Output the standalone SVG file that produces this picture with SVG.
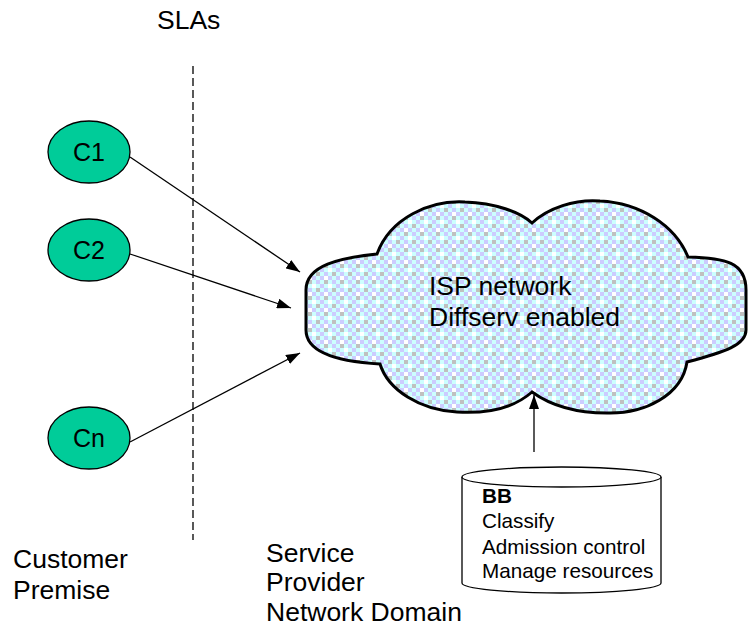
<svg xmlns="http://www.w3.org/2000/svg" width="748" height="628" viewBox="0 0 748 628">
<style>
  .lbl { font-family: "Liberation Sans", Arial, sans-serif; font-size: 26.5px; fill: #000; }
  .cl { font-family: "Liberation Sans", Arial, sans-serif; font-size: 25px; fill: #000; text-anchor: middle; }
  .bb { font-family: "Liberation Sans", Arial, sans-serif; font-size: 20.7px; fill: #000; }
  .node { fill: #00CC99; stroke: #000; stroke-width: 1.3; }
  .conn { stroke: #000; stroke-width: 1.3; fill: none; marker-end: url(#arr); }
</style>
<defs>
  <marker id="arr" markerUnits="userSpaceOnUse" viewBox="0 0 14 10" refX="14" refY="5" markerWidth="14" markerHeight="10" orient="auto">
    <path d="M0,0 L14,5 L0,10 Z" fill="#000"/>
  </marker>
  <pattern id="chk" patternUnits="userSpaceOnUse" width="16" height="16">
    <rect width="16" height="16" fill="#ccffff"/>
    <rect x="4" y="0" width="4" height="4" fill="#ccccff"/>
    <rect x="12" y="0" width="4" height="4" fill="#c0c0c0"/>
    <rect x="0" y="4" width="4" height="4" fill="#ccccff"/>
    <rect x="4" y="4" width="4" height="4" fill="#ffffff"/>
    <rect x="8" y="4" width="4" height="4" fill="#ccccff"/>
    <rect x="4" y="8" width="4" height="4" fill="#c0c0c0"/>
    <rect x="12" y="8" width="4" height="4" fill="#ccccff"/>
    <rect x="0" y="12" width="4" height="4" fill="#ccccff"/>
    <rect x="8" y="12" width="4" height="4" fill="#ffffff"/>
  </pattern>
</defs>
<rect width="748" height="628" fill="#fff"/>

<text class="lbl" x="157" y="29">SLAs</text>
<line x1="193" y1="66" x2="193" y2="540" stroke="#000" stroke-width="1.3" stroke-dasharray="8,4"/>

<g id="cloud">
  <path d="M377,254 C390,218 430,200 465,202 C495,203 520,212 532,223 C548,208 575,199 600,201 C640,203 675,225 688,257 C725,258 746,262 746,290 L746,330 C746,345 725,352 687,362 C682,395 645,414 607,413 C575,413 550,405 532,392 C515,407 490,414 457,412 C420,410 388,390 380,364 C345,362 306,355 306,330 L306,290 C306,265 340,258 377,254 Z" fill="url(#chk)" stroke="#000" stroke-width="3"/>
  <text class="lbl" x="429" y="295">ISP network</text>
  <text class="lbl" x="429" y="326">Diffserv enabled</text>
</g>

<g id="c1">
  <ellipse class="node" cx="89" cy="152" rx="41" ry="31"/>
  <text class="cl" x="89" y="161">C1</text>
</g>
<g id="c2">
  <ellipse class="node" cx="89" cy="250" rx="41" ry="31"/>
  <text class="cl" x="89" y="259">C2</text>
</g>
<g id="cn">
  <ellipse class="node" cx="89" cy="438" rx="41" ry="31"/>
  <text class="cl" x="89" y="447">Cn</text>
</g>

<g id="bb">
  <path d="M462,477 L462,583 A99.5,10 0 0 0 661,583 L661,477" fill="#fff" stroke="#000" stroke-width="1.3"/>
  <ellipse cx="561.5" cy="477" rx="99.5" ry="10" fill="#fff" stroke="#000" stroke-width="1.3"/>
  <text class="bb" x="482" y="503" font-weight="bold">BB</text>
  <text class="bb" x="482" y="528">Classify</text>
  <text class="bb" x="482" y="554">Admission control</text>
  <text class="bb" x="482" y="578">Manage resources</text>
</g>

<g id="connectors">
  <line class="conn" x1="130" y1="157" x2="300" y2="272"/>
  <line class="conn" x1="130" y1="254" x2="291" y2="308"/>
  <line class="conn" x1="130" y1="442" x2="300" y2="353"/>
  <line class="conn" x1="534" y1="452" x2="534" y2="395"/>
</g>

<g id="labels">
  <text class="lbl" x="13" y="568">Customer</text>
  <text class="lbl" x="13" y="599">Premise</text>
  <text class="lbl" x="266" y="562">Service</text>
  <text class="lbl" x="266" y="591">Provider</text>
  <text class="lbl" x="266" y="621">Network Domain</text>
</g>
</svg>
